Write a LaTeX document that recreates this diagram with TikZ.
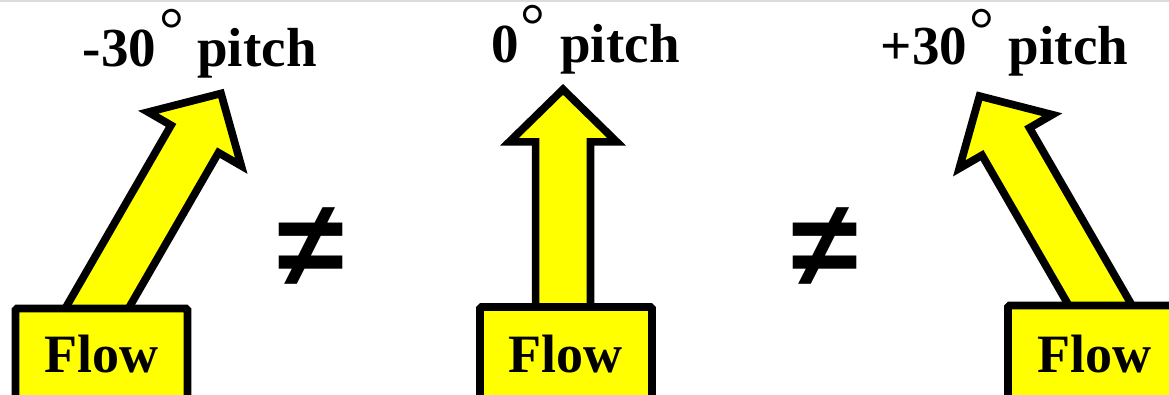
\documentclass[tikz,border=0pt]{standalone}
\usepackage{fontspec}
\setmainfont{Liberation Serif}
\newfontfamily\neqfont{Liberation Sans}
\definecolor{flowyellow}{RGB}{255,255,0}
\tikzset{
  flowbox/.style={draw=black, fill=flowyellow, line width=7.6pt, rounded corners=1.5pt,
    minimum width=172pt, minimum height=121.5pt, inner sep=0pt},
  flowtext/.style={font=\fontsize{54}{60}\selectfont\bfseries, anchor=base, inner sep=0pt},
  titletext/.style={font=\fontsize{55}{62}\selectfont\bfseries, anchor=base, inner sep=0pt},
  degtext/.style={font=\fontsize{62}{66}\selectfont, anchor=north, inner sep=0pt},
  neqtext/.style={font=\neqfont\bfseries\fontsize{122}{130}\selectfont, inner sep=0pt},
  arrowshape/.style={draw=black, fill=flowyellow, line width=7.7pt, miter limit=10},
}
\newcommand\FlowArrow[4]{%
  \draw[arrowshape, shift={(#1,#2)}, rotate=#3]
    (-27.4,-45) -- (-27.4,{#4-52.5}) -- (-53.7,{#4-52.5}) -- (0,#4)
    -- (53.7,{#4-52.5}) -- (27.4,{#4-52.5}) -- (27.4,-45) -- cycle;}
\begin{document}
\begin{tikzpicture}[x=1pt,y=1pt]
  \useasboundingbox (0,0) rectangle (1169,-395);
  \clip (0,0) rectangle (1169,-395);
  \fill[white] (0,0) rectangle (1169,-395);
  \fill[black!14] (0,0) rectangle (1169,-1.6);

  % arrows
  \FlowArrow{96}{-310}{-30}{250}
  \FlowArrow{563}{-310}{0}{220.6}
  \FlowArrow{1103}{-310}{30}{247}

  % boxes
  \node[flowbox] (box1) at (101.5,-369.25) {};
  \node[flowbox] (box2) at (566,-367.75) {};
  \node[flowbox] (box3) at (1094,-366.25) {};
  \node[flowtext] (flow1) at (101,-372) {Flow};
  \node[flowtext] (flow2) at (565.5,-372) {Flow};
  \node[flowtext] (flow3) at (1094.5,-372) {Flow};

  % titles
  \node[titletext] (t1a) at (119.5,-67) {-30};
  \node[degtext]   (t1d) at (172,-9.5) {°};
  \node[titletext] (t1b) at (257,-67) {pitch};

  \node[titletext] (t2a) at (505,-63) {0};
  \node[degtext]   (t2d) at (533,-5.5) {°};
  \node[titletext] (t2b) at (620,-63) {pitch};

  \node[titletext] (t3a) at (924,-65) {+30};
  \node[degtext]   (t3d) at (982,-9) {°};
  \node[titletext] (t3b) at (1068.5,-65) {pitch};

  % not-equal signs
  \node[neqtext] (ne1) at (311,-247) {≠};
  \node[neqtext] (ne2) at (825,-247) {≠};
\end{tikzpicture}
\end{document}
